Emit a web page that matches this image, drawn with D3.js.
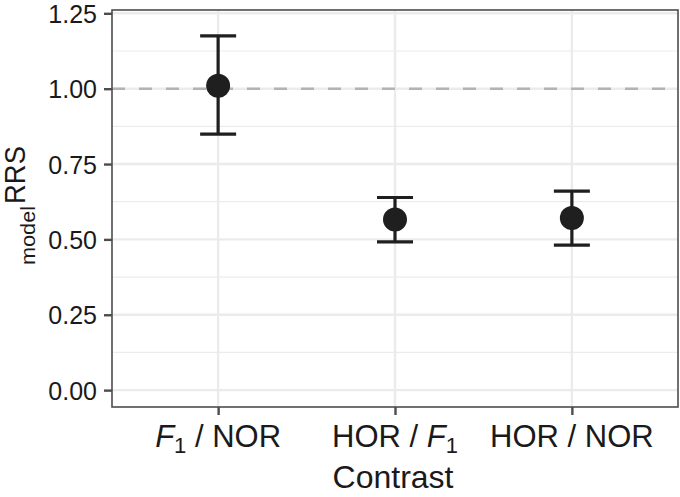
<!DOCTYPE html>
<html>
<head>
<meta charset="utf-8">
<script src="https://cdn.jsdelivr.net/npm/d3@7"></script>
<style>
  body { margin: 0; background: #fff; }
  svg { display: block; font-family: "Liberation Sans", Arial, sans-serif; }
</style>
</head>
<body>
<svg id="chart" width="680" height="497"></svg>
<script>
// Werte
var contrasts = ["F1/NOR", "HOR/F1", "HOR/NOR"];
var estimate = [1.010, 0.566, 0.571];
var lower = [0.849, 0.492, 0.481];
var upper = [1.175, 0.639, 0.660];
var yTicks = [0, 0.25, 0.5, 0.75, 1.0, 1.25];
var yMinor = [0.125, 0.375, 0.625, 0.875, 1.125];
var refLine = 1.0;

var svg = d3.select("#chart");
var margin = {top: 10, right: 2, bottom: 90, left: 112};
var width = 680 - margin.left - margin.right;
var height = 497 - margin.top - margin.bottom;

var g = svg.append("g")
    .attr("transform", "translate(" + margin.left + "," + margin.top + ")");

// Skalen
var x = d3.scalePoint()
    .domain(contrasts)
    .range([0, width])
    .padding(0.6);

var y = d3.scaleLinear()
    .domain([-0.056, 1.261])
    .range([height, 0]);

// Gitterlinien
g.selectAll(".minor")
    .data(yMinor)
    .enter().append("line")
    .attr("x1", 0).attr("x2", width)
    .attr("y1", function (d) { return y(d); })
    .attr("y2", function (d) { return y(d); })
    .attr("stroke", "#ececec")
    .attr("stroke-width", 1.2);

g.selectAll(".major")
    .data(yTicks)
    .enter().append("line")
    .attr("x1", 0).attr("x2", width)
    .attr("y1", function (d) { return y(d); })
    .attr("y2", function (d) { return y(d); })
    .attr("stroke", "#ebebeb")
    .attr("stroke-width", 2.4);

g.selectAll(".vmajor")
    .data(contrasts)
    .enter().append("line")
    .attr("x1", function (d) { return x(d); })
    .attr("x2", function (d) { return x(d); })
    .attr("y1", 0).attr("y2", height)
    .attr("stroke", "#ebebeb")
    .attr("stroke-width", 2.4);

// Referenzlinie bei 1
g.append("line")
    .attr("x1", 0).attr("x2", width)
    .attr("y1", y(refLine)).attr("y2", y(refLine))
    .attr("stroke", "#b3b3b3")
    .attr("stroke-width", 2.6)
    .attr("stroke-dasharray", "13,14");

// Fehlerbalken und Punkte
var pts = contrasts.map(function (c, i) {
    return {c: c, est: estimate[i], lo: lower[i], hi: upper[i]};
});

var cap = 18;
var eb = g.selectAll(".eb")
    .data(pts)
    .enter().append("g");

eb.append("line")
    .attr("x1", function (d) { return x(d.c); })
    .attr("x2", function (d) { return x(d.c); })
    .attr("y1", function (d) { return y(d.lo); })
    .attr("y2", function (d) { return y(d.hi); })
    .attr("stroke", "#1f1f1f").attr("stroke-width", 3.2);

eb.append("line")
    .attr("x1", function (d) { return x(d.c) - cap; })
    .attr("x2", function (d) { return x(d.c) + cap; })
    .attr("y1", function (d) { return y(d.hi); })
    .attr("y2", function (d) { return y(d.hi); })
    .attr("stroke", "#1f1f1f").attr("stroke-width", 3.2);

eb.append("line")
    .attr("x1", function (d) { return x(d.c) - cap; })
    .attr("x2", function (d) { return x(d.c) + cap; })
    .attr("y1", function (d) { return y(d.lo); })
    .attr("y2", function (d) { return y(d.lo); })
    .attr("stroke", "#1f1f1f").attr("stroke-width", 3.2);

eb.append("circle")
    .attr("cx", function (d) { return x(d.c); })
    .attr("cy", function (d) { return y(d.est); })
    .attr("r", 12)
    .attr("fill", "#1f1f1f");

// Rahmen
g.append("rect")
    .attr("x", 0).attr("y", 0)
    .attr("width", width).attr("height", height)
    .attr("fill", "none")
    .attr("stroke", "#4d4d4d")
    .attr("stroke-width", 1.6);

// Achsen
var yAxis = g.append("g")
    .call(d3.axisLeft(y).tickValues(yTicks).tickFormat(d3.format(".2f")).tickSize(8).tickPadding(7));
yAxis.select(".domain").remove();
yAxis.selectAll(".tick line").attr("stroke", "#4d4d4d").attr("stroke-width", 2.4);
yAxis.selectAll(".tick text")
    .attr("fill", "#1a1a1a")
    .style("font-size", "25px")
    .attr("dy", "0.36em");

var xAxis = g.append("g")
    .attr("transform", "translate(0," + height + ")")
    .call(d3.axisBottom(x).tickSize(8).tickFormat(""));
xAxis.select(".domain").remove();
xAxis.selectAll(".tick line").attr("stroke", "#4d4d4d").attr("stroke-width", 2.4);

// Beschriftungen mit Subskript
var labelParts = {
    "F1/NOR": [{t: "F", it: true}, {t: "1", sub: true}, {t: " / NOR"}],
    "HOR/F1": [{t: "HOR / "}, {t: "F", it: true}, {t: "1", sub: true}],
    "HOR/NOR": [{t: "HOR / NOR"}]
};

contrasts.forEach(function (c) {
    var txt = g.append("text")
        .attr("x", x(c))
        .attr("y", height + 40)
        .attr("text-anchor", "middle")
        .attr("fill", "#1a1a1a")
        .style("font-size", "31px");
    var shifted = false;
    labelParts[c].forEach(function (p) {
        var ts = txt.append("tspan").text(p.t);
        if (p.it) ts.style("font-style", "italic");
        if (p.sub) {
            ts.style("font-size", "22px").attr("dy", 6);
            shifted = true;
        } else if (shifted) {
            ts.attr("dy", -6);
            shifted = false;
        }
    });
});

svg.append("text")
    .attr("x", margin.left + width / 2 - 2)
    .attr("y", 488)
    .attr("text-anchor", "middle")
    .attr("fill", "#1a1a1a")
    .style("font-size", "32px")
    .text("Contrast");

// y-Titel: "model" tiefgestellt vor "RRS", beide mit fester Laenge
var yl = svg.append("g")
    .attr("transform", "translate(25,205) rotate(-90)");
yl.append("text")
    .attr("x", -60).attr("y", 10)
    .attr("fill", "#1a1a1a")
    .attr("textLength", 59)
    .attr("lengthAdjust", "spacingAndGlyphs")
    .style("font-size", "21px")
    .text("model");
yl.append("text")
    .attr("x", 1).attr("y", 0)
    .attr("fill", "#1a1a1a")
    .attr("textLength", 58)
    .attr("lengthAdjust", "spacingAndGlyphs")
    .style("font-size", "29px")
    .text("RRS");
</script>
</body>
</html>
